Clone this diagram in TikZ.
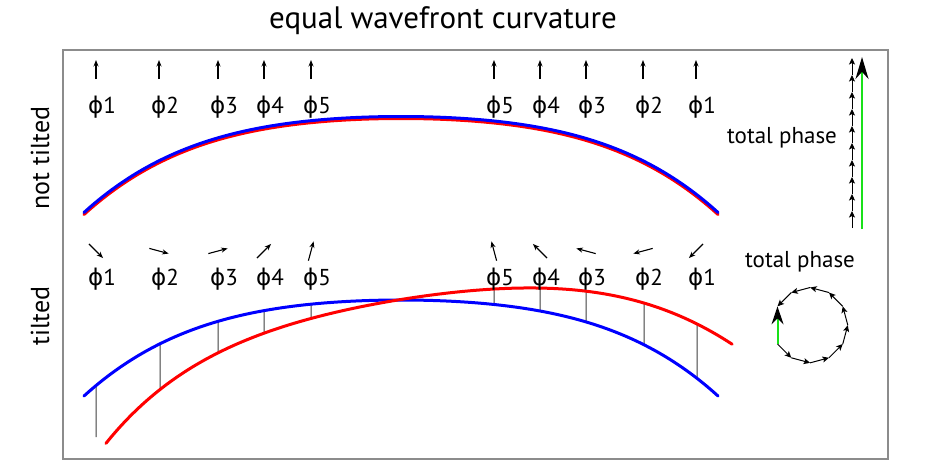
\documentclass[tikz,border=0pt]{standalone}
\usepackage{fontspec}
\setmainfont{PT Sans}
\newfontfamily\phif{DejaVu Sans}
\usetikzlibrary{arrows.meta,intersections,calc}
\definecolor{phgreen}{RGB}{25,225,25}
\tikzset{
  frame/.style={draw=black!45, line width=1.6pt},
  wf/.style={line width=3pt, line cap=round},
  wfplot/.style={domain=-317:317, samples=120, smooth},
  ph/.style={line width=1.1pt, -{Stealth[length=6.5pt,width=5pt]}},
  phs/.style={line width=1pt, -{Stealth[length=6.5pt,width=6pt,inset=1.5pt]}},
  conn/.style={draw=black!75, line width=1pt},
  lbl/.style={font=\fontsize{23}{26}\selectfont, inner sep=0pt},
  side/.style={font=\fontsize{26}{30}\selectfont, inner sep=0pt, rotate=90},
  ttl/.style={font=\fontsize{31}{35}\selectfont, inner sep=0pt},
  bigtip/.style={-{Stealth[color=black,length=22pt,width=13pt]}},
}
\begin{document}
\begin{tikzpicture}[x=1pt,y=-1pt]
\useasboundingbox (0,0) rectangle (925,460);
\fill[white] (0,0) rectangle (925,460);
\draw[frame] (63,50) rectangle (888,459);

\node[ttl] (title) at (443,21) {equal wavefront curvature};
\node[side] (nt) at (40,158) {not tilted};
\node[side] (tt) at (40,316) {tilted};

% ---- not tilted wavefronts
\draw[wf, red, shift={(401,118.5)}] plot[wfplot] (\x, {48*(\x/317)^2+48*(\x/317)^4});
\draw[wf, blue, shift={(401,116.5)}] plot[wfplot] (\x, {48*(\x/317)^2+48*(\x/317)^4});

% top row phasors
\foreach \x/\d [count=\i] in {96/1,159/2,218/3,264/4,311/5,494/5,540/4,586/3,643/2,696/1} {
  \coordinate (ua\i) at (\x,79);
  \coordinate (ub\i) at (\x,60);
  \draw[ph] (ua\i) -- (ub\i);
  \node[lbl, anchor=base west] (ul\i) at (\x-8,113) {{\phif ϕ}\d};
}

% total phase (not tilted)
\node[lbl] (tp1) at (782,138) {total phase};
\coordinate (s0) at (852,228);
\foreach \k [evaluate=\k as \n using int(\k+1)] in {0,...,9} {
  \draw[phs] (s\k) -- ++(0,-17) coordinate (s\n);
}
\coordinate (g0) at (862,229);
\coordinate (g1) at (862,57);
\draw[phgreen, line width=2pt, bigtip] (g0) -- (g1);

% ---- tilted wavefronts
\path[name path global=blueT, shift={(401,300)}] plot[wfplot] (\x, {48*(\x/317)^2+48*(\x/317)^4});
\path[name path global=redT, shift={(404,299)}, rotate=9] plot[wfplot] (\x, {48*(\x/317)^2+48*(\x/317)^4});

% connectors
\path[name path=v0] (96,240) -- (96,460);
\path[name intersections={of=v0 and blueT, by=pb0}];
\coordinate (pr0) at (96,437);
\draw[conn] (pb0) -- (pr0);
\foreach \x [count=\i] in {160,218,264,311,494,540,586,644,697} {
  \path[name path=vv] (\x,240) -- (\x,460);
  \path[name intersections={of=vv and blueT, by=pb\i}];
  \path[name intersections={of=vv and redT, by=pr\i}];
  \draw[conn] (pb\i) -- (pr\i);
}

\draw[wf, blue, shift={(401,300)}] plot[wfplot] (\x, {48*(\x/317)^2+48*(\x/317)^4});
\draw[wf, red, shift={(404,299)}, rotate=9] plot[wfplot] (\x, {48*(\x/317)^2+48*(\x/317)^4});

% tilted row phasors
\foreach \x/\d/\a [count=\i] in {96/1/-45,159/2/-15,218/3/15,264/4/45,311/5/75,494/5/105,540/4/135,586/3/165,643/2/195,696/1/225} {
  \coordinate (tc\i) at (\x,251);
  \draw[ph] ($(tc\i)+(\a+180:10pt)$) -- ($(tc\i)+(\a:10pt)$);
  \node[lbl, anchor=base west] (tl\i) at (\x-8,285) {{\phif ϕ}\d};
}

% total phase (tilted)
\node[lbl] (tp2) at (800,262) {total phase};
\coordinate (c0) at (777.5,344);
\foreach \k [evaluate=\k as \a using -45+30*\k, evaluate=\k as \n using int(\k+1)] in {0,...,9} {
  \draw[phs] (c\k) -- ++(\a:19.5pt) coordinate (c\n);
}
\draw[phgreen, line width=2pt, -{Stealth[color=black,length=18pt,width=12pt]}] (c0) -- (c10);
\end{tikzpicture}
\end{document}
